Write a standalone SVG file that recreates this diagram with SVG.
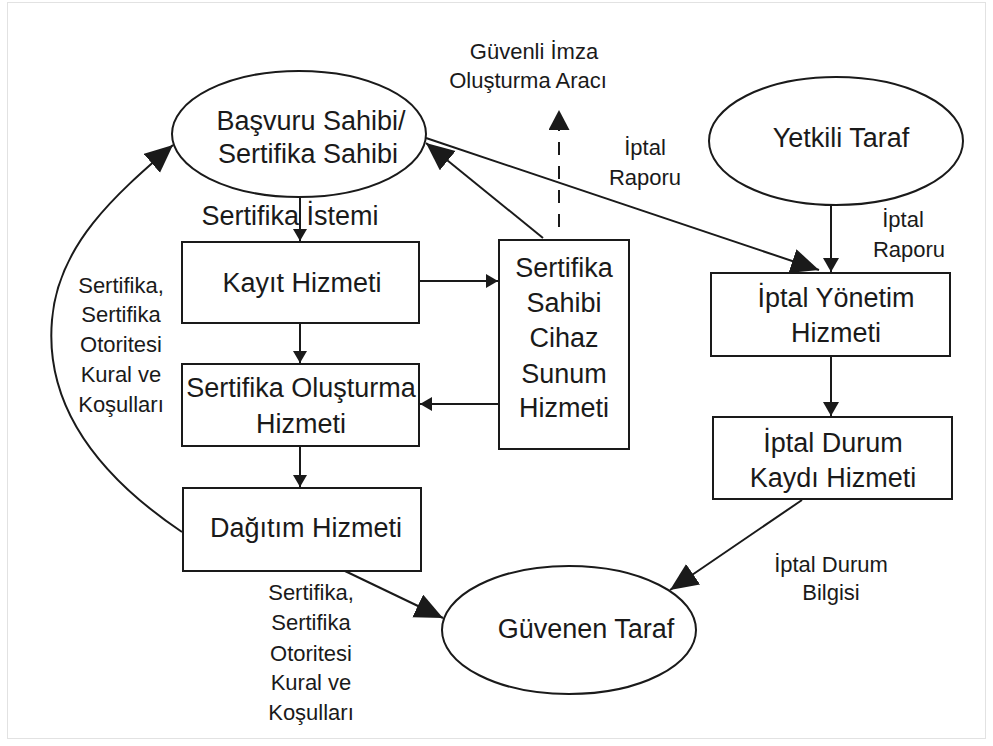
<svg xmlns="http://www.w3.org/2000/svg" width="993" height="746" viewBox="0 0 993 746">
  <style>
    .shape { fill: #ffffff; stroke: #1a1a1a; stroke-width: 2; }
    .link { fill: none; stroke: #1a1a1a; stroke-width: 2; }
    .dash { stroke-dasharray: 13 11; }
    text { font-family: "Liberation Sans", Arial, sans-serif; fill: #1a1a1a; text-anchor: middle; }
    .big { font-size: 27px; }
    .small { font-size: 22px; }
  </style>
  <defs>
    <marker id="headL" markerUnits="userSpaceOnUse" markerWidth="29" markerHeight="26" refX="28" refY="12.5" orient="auto">
      <path d="M0,0 L28,12.5 L0,25 z" fill="#1a1a1a"/>
    </marker>
    <marker id="headM" markerUnits="userSpaceOnUse" markerWidth="21" markerHeight="22" refX="20" refY="10.5" orient="auto">
      <path d="M0,0 L20,10.5 L0,21 z" fill="#1a1a1a"/>
    </marker>
    <marker id="headS" markerUnits="userSpaceOnUse" markerWidth="15" markerHeight="17" refX="14" refY="8" orient="auto">
      <path d="M0,0 L14,8 L0,16 z" fill="#1a1a1a"/>
    </marker>
    <marker id="headXS" markerUnits="userSpaceOnUse" markerWidth="13" markerHeight="15" refX="12" refY="7" orient="auto">
      <path d="M0,0 L12,7 L0,14 z" fill="#1a1a1a"/>
    </marker>
  </defs>

  <rect x="0" y="0" width="993" height="746" fill="#ffffff"/>
  <rect x="7.5" y="2.5" width="978" height="736" fill="none" stroke="#e2e2e2" stroke-width="1"/>

  <!-- connectors -->
  <g id="connectors">
    <line class="link" x1="300" y1="198" x2="300" y2="241" marker-end="url(#headXS)"/>
    <line class="link" x1="300" y1="323" x2="300" y2="363" marker-end="url(#headXS)"/>
    <line class="link" x1="300" y1="446" x2="300" y2="487" marker-end="url(#headXS)"/>
    <line class="link" x1="419" y1="281" x2="498" y2="281" marker-end="url(#headXS)"/>
    <line class="link" x1="499" y1="404" x2="420" y2="404" marker-end="url(#headXS)"/>
    <line class="link" x1="543" y1="238" x2="426" y2="143" marker-end="url(#headL)"/>
    <line class="link dash" x1="559" y1="227" x2="559" y2="110" marker-end="url(#headM)"/>
    <line class="link" x1="426" y1="138" x2="819" y2="270" marker-end="url(#headL)"/>
    <line class="link" x1="831" y1="205" x2="831" y2="272" marker-end="url(#headS)"/>
    <line class="link" x1="831" y1="356" x2="831" y2="416" marker-end="url(#headS)"/>
    <line class="link" x1="802" y1="500" x2="670" y2="590" marker-end="url(#headL)"/>
    <line class="link" x1="345" y1="571" x2="443" y2="618" marker-end="url(#headL)"/>
    <path class="link" d="M182,532 C 90,470 45,400 52,320 C 58,245 115,195 173,145" marker-end="url(#headL)"/>

    <text class="big" x="290" y="225">Sertifika İstemi</text>
    <text class="small" x="534" y="59">Güvenli İmza</text>
    <text class="small" x="528" y="88">Oluşturma Aracı</text>
    <text class="small" x="645" y="155">İptal</text>
    <text class="small" x="645" y="185">Raporu</text>
    <text class="small" x="903" y="227">İptal</text>
    <text class="small" x="909" y="257">Raporu</text>
    <text class="small" x="831" y="572">İptal Durum</text>
    <text class="small" x="831" y="600">Bilgisi</text>
    <g id="label-left">
      <text class="small" x="121" y="293">Sertifika,</text>
      <text class="small" x="121" y="322">Sertifika</text>
      <text class="small" x="121" y="352">Otoritesi</text>
      <text class="small" x="121" y="382">Kural ve</text>
      <text class="small" x="121" y="412">Koşulları</text>
    </g>
    <g id="label-bottom">
      <text class="small" x="311" y="600">Sertifika,</text>
      <text class="small" x="311" y="630">Sertifika</text>
      <text class="small" x="311" y="661">Otoritesi</text>
      <text class="small" x="311" y="690">Kural ve</text>
      <text class="small" x="311" y="720">Koşulları</text>
    </g>
  </g>

  <!-- nodes -->
  <g id="basvuru-sahibi">
    <ellipse class="shape" cx="299" cy="134" rx="127" ry="63"/>
    <text class="big" x="311" y="130">Başvuru Sahibi/</text>
    <text class="big" x="308" y="163">Sertifika Sahibi</text>
  </g>
  <g id="yetkili-taraf">
    <ellipse class="shape" cx="836" cy="141" rx="127" ry="64"/>
    <text class="big" x="841" y="147">Yetkili Taraf</text>
  </g>
  <g id="guvenen-taraf">
    <ellipse class="shape" cx="569" cy="630" rx="127" ry="64"/>
    <text class="big" x="586" y="638">Güvenen Taraf</text>
  </g>
  <g id="kayit-hizmeti">
    <rect class="shape" x="182" y="242" width="237" height="81"/>
    <text class="big" x="302" y="292">Kayıt Hizmeti</text>
  </g>
  <g id="sertifika-olusturma">
    <rect class="shape" x="182" y="364" width="237" height="82"/>
    <text class="big" x="301" y="397">Sertifika Oluşturma</text>
    <text class="big" x="301" y="433">Hizmeti</text>
  </g>
  <g id="dagitim-hizmeti">
    <rect class="shape" x="183" y="488" width="238" height="83"/>
    <text class="big" x="306" y="537">Dağıtım Hizmeti</text>
  </g>
  <g id="cihaz-sunum">
    <rect class="shape" x="499" y="240" width="130" height="209"/>
    <text class="big" x="564" y="277">Sertifika</text>
    <text class="big" x="564" y="312">Sahibi</text>
    <text class="big" x="564" y="347">Cihaz</text>
    <text class="big" x="564" y="383">Sunum</text>
    <text class="big" x="564" y="417">Hizmeti</text>
  </g>
  <g id="iptal-yonetim">
    <rect class="shape" x="711" y="273" width="239" height="83"/>
    <text class="big" x="836" y="307">İptal Yönetim</text>
    <text class="big" x="836" y="342">Hizmeti</text>
  </g>
  <g id="iptal-durum-kaydi">
    <rect class="shape" x="713" y="417" width="239" height="82"/>
    <text class="big" x="833" y="452">İptal Durum</text>
    <text class="big" x="833" y="487">Kaydı Hizmeti</text>
  </g>
</svg>
